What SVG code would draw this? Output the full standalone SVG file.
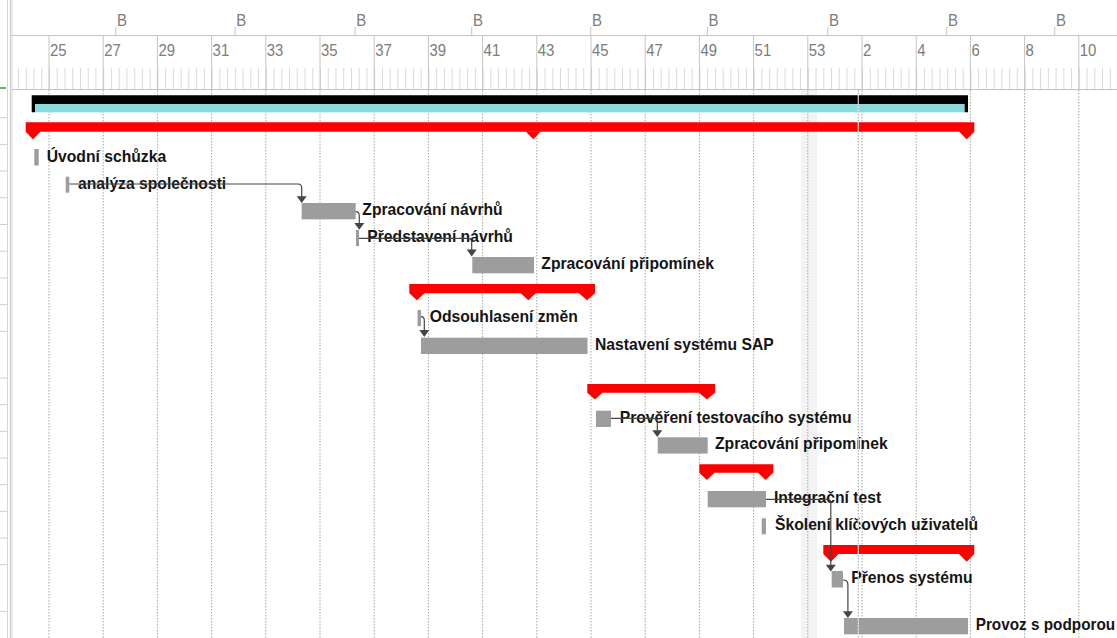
<svg xmlns="http://www.w3.org/2000/svg" width="1117" height="638" viewBox="0 0 1117 638">
  <style>
    .hdr { font-family: "Liberation Sans", Arial, sans-serif; font-size: 17px; fill: #7c7c7c; }
    .lbl { font-family: "Liberation Sans", Arial, sans-serif; font-size: 15.7px; font-weight: bold; fill: #151515; }
    .rule { stroke: #c4c4c4; stroke-width: 1; fill: none; }
    .grid { stroke: #a6a6a6; stroke-width: 1; stroke-dasharray: 1.5 1.5; fill: none; }
    .task { fill: #9d9d9d; }
    .summary { fill: #ff0000; }
    .link { stroke: #454545; stroke-width: 1.2; fill: none; }
    .head { fill: #454545; }
  </style>
  <defs>
    <!-- minor timescale ticks, one every two days -->
    <pattern id="minorTicks" patternUnits="userSpaceOnUse" x="18.03" y="68" width="7.743" height="21">
      <rect x="0" y="0" width="1" height="21" fill="#dadada"/>
    </pattern>
  </defs>

  <rect x="0" y="0" width="1117" height="638" fill="#ffffff"/>

  <!-- sheet edge on the left -->
  <g id="sheet-edge">
    <line x1="7.5" y1="0" x2="7.5" y2="638" stroke="#d6d6d6"/>
    <line x1="10.5" y1="0" x2="10.5" y2="638" stroke="#c8c8c8"/>
    <line x1="12" y1="0" x2="12" y2="638" stroke="#d8d8d8"/>
    <line x1="0" y1="88" x2="6" y2="88" stroke="#3f8f3f" stroke-width="1.5"/>
    <path stroke="#cfcfcf" fill="none" d="M0,117.7H7 M0,144.4H7 M0,171H7 M0,197.8H7 M0,224.5H7 M0,251.2H7 M0,278H7 M0,304.6H7 M0,331.3H7 M0,378H7 M0,404.7H7 M0,431.3H7 M0,458H7 M0,484.7H7 M0,511.3H7 M0,538H7 M0,564.7H7 M0,611.4H7"/>
  </g>

  <!-- timescale -->
  <g id="timescale">
    <line class="rule" x1="12" y1="35.5" x2="1117" y2="35.5"/>
    <line class="rule" x1="12" y1="89.5" x2="1117" y2="89.5"/>
    <rect x="12.5" y="68" width="1104.5" height="21" fill="url(#minorTicks)"/>
    <!-- month ticks -->
    <path class="rule" d="M115.7,27V35 M235,27V35 M355,27V35 M471.7,27V35 M590.7,27V35 M707.3,27V35 M827.7,27V35 M946.7,27V35 M1054.7,27V35"/>
    <g class="hdr">
      <text x="117" y="26" textLength="10" lengthAdjust="spacingAndGlyphs">B</text>
      <text x="236.3" y="26" textLength="10" lengthAdjust="spacingAndGlyphs">B</text>
      <text x="356.3" y="26" textLength="10" lengthAdjust="spacingAndGlyphs">B</text>
      <text x="473" y="26" textLength="10" lengthAdjust="spacingAndGlyphs">B</text>
      <text x="592" y="26" textLength="10" lengthAdjust="spacingAndGlyphs">B</text>
      <text x="708.6" y="26" textLength="10" lengthAdjust="spacingAndGlyphs">B</text>
      <text x="829" y="26" textLength="10" lengthAdjust="spacingAndGlyphs">B</text>
      <text x="948" y="26" textLength="10" lengthAdjust="spacingAndGlyphs">B</text>
      <text x="1056" y="26" textLength="10" lengthAdjust="spacingAndGlyphs">B</text>
    </g>
    <!-- week ticks -->
    <path class="rule" d="M49,36V89 M103.2,36V89 M157.4,36V89 M211.6,36V89 M265.8,36V89 M320,36V89 M374.2,36V89 M428.4,36V89 M482.6,36V89 M536.8,36V89 M591,36V89 M645.2,36V89 M699.4,36V89 M753.6,36V89 M807.8,36V89 M862,36V89 M916.2,36V89 M970.4,36V89 M1024.6,36V89 M1078.8,36V89"/>
    <g class="hdr">
      <text x="50" y="56" textLength="16.6" lengthAdjust="spacingAndGlyphs">25</text>
      <text x="104.2" y="56" textLength="16.6" lengthAdjust="spacingAndGlyphs">27</text>
      <text x="158.4" y="56" textLength="16.6" lengthAdjust="spacingAndGlyphs">29</text>
      <text x="212.6" y="56" textLength="16.6" lengthAdjust="spacingAndGlyphs">31</text>
      <text x="266.8" y="56" textLength="16.6" lengthAdjust="spacingAndGlyphs">33</text>
      <text x="321" y="56" textLength="16.6" lengthAdjust="spacingAndGlyphs">35</text>
      <text x="375.2" y="56" textLength="16.6" lengthAdjust="spacingAndGlyphs">37</text>
      <text x="429.4" y="56" textLength="16.6" lengthAdjust="spacingAndGlyphs">39</text>
      <text x="483.6" y="56" textLength="16.6" lengthAdjust="spacingAndGlyphs">41</text>
      <text x="537.8" y="56" textLength="16.6" lengthAdjust="spacingAndGlyphs">43</text>
      <text x="592" y="56" textLength="16.6" lengthAdjust="spacingAndGlyphs">45</text>
      <text x="646.2" y="56" textLength="16.6" lengthAdjust="spacingAndGlyphs">47</text>
      <text x="700.4" y="56" textLength="16.6" lengthAdjust="spacingAndGlyphs">49</text>
      <text x="754.6" y="56" textLength="16.6" lengthAdjust="spacingAndGlyphs">51</text>
      <text x="808.8" y="56" textLength="16.6" lengthAdjust="spacingAndGlyphs">53</text>
      <text x="863" y="56" textLength="8.3" lengthAdjust="spacingAndGlyphs">2</text>
      <text x="917.2" y="56" textLength="8.3" lengthAdjust="spacingAndGlyphs">4</text>
      <text x="971.4" y="56" textLength="8.3" lengthAdjust="spacingAndGlyphs">6</text>
      <text x="1025.6" y="56" textLength="8.3" lengthAdjust="spacingAndGlyphs">8</text>
      <text x="1079.8" y="56" textLength="16.6" lengthAdjust="spacingAndGlyphs">10</text>
    </g>
  </g>

  <!-- non-working period -->
  <rect x="801" y="90" width="16" height="548" fill="#f3f3f3"/>

  <!-- fortnight gridlines -->
  <path class="grid" d="M49,90V638 M103.2,90V638 M157.4,90V638 M211.6,90V638 M265.8,90V638 M320,90V638 M374.2,90V638 M428.4,90V638 M482.6,90V638 M536.8,90V638 M591,90V638 M645.2,90V638 M699.4,90V638 M753.6,90V638 M807.8,90V638 M862,90V638 M916.2,90V638 M970.4,90V638 M1024.6,90V638 M1078.8,90V638"/>

  <!-- project summary -->
  <g id="project">
    <rect x="35" y="104" width="930" height="8.3" fill="#8ad9dc"/>
    <path fill="#000000" d="M31.7,95.3H968V112.3H964.7V104H35V112.3H31.7Z"/>
  </g>

  <!-- summary tasks -->
  <g id="summary-1">
    <path class="summary" d="M25.7,122.3H974.3V131.7L966.7,139.3L959.3,131.7H40.5L33,139.3L25.7,131.7Z"/>
    <polygon class="summary" points="525.8,131.5 540.8,131.5 533.3,139.3"/>
  </g>
  <g id="summary-2">
    <path class="summary" d="M409.3,284H595V293.3L587,300.3L579,293.3H424.5L416.9,300.3L409.3,293.3Z"/>
    <polygon class="summary" points="520.5,293 536,293 528.3,300.3"/>
  </g>
  <g id="summary-3">
    <path class="summary" d="M587.3,384H715V392.7L707,399.6L699,392.7H602.5L595,399.6L587.3,392.7Z"/>
  </g>
  <g id="summary-4">
    <path class="summary" d="M699.3,464.3H773.3V472.7L765.5,480L758,472.7H714.5L706.9,480L699.3,472.7Z"/>
  </g>
  <g id="summary-5">
    <path class="summary" d="M823.3,545H974.3V554L966.7,561.7L959,554H838.5L830.9,561.7L823.3,554Z"/>
  </g>

  <!-- tasks -->
  <g id="uvodni-schuzka">
    <rect class="task" x="34.3" y="149" width="4.4" height="16.5"/>
    <text class="lbl" x="46.7" y="161.5">Úvodní schůzka</text>
  </g>
  <g id="analyza-spolecnosti">
    <rect class="task" x="65.7" y="176.7" width="3.6" height="16"/>
    <text class="lbl" x="78" y="188.5">analýza společnosti</text>
  </g>
  <g id="zpracovani-navrhu">
    <rect class="task" x="301.7" y="203" width="54" height="16.3"/>
    <text class="lbl" x="362.3" y="215.2">Zpracování návrhů</text>
  </g>
  <g id="predstaveni-navrhu">
    <rect class="task" x="356" y="230" width="3" height="16"/>
    <text class="lbl" x="367.3" y="242">Představení návrhů</text>
  </g>
  <g id="zpracovani-pripominek-1">
    <rect class="task" x="472.3" y="257" width="61.7" height="16.3"/>
    <text class="lbl" x="541.3" y="269.2">Zpracování připomínek</text>
  </g>
  <g id="odsouhlaseni-zmen">
    <rect class="task" x="417.5" y="310" width="3.5" height="16"/>
    <text class="lbl" x="429.7" y="322">Odsouhlasení změn</text>
  </g>
  <g id="nastaveni-sap">
    <rect class="task" x="421" y="337.7" width="166.5" height="16.3"/>
    <text class="lbl" x="595" y="349.6">Nastavení systému SAP</text>
  </g>
  <g id="provereni-testovaciho-systemu">
    <rect class="task" x="596" y="410.7" width="15" height="16.3"/>
    <text class="lbl" x="619.7" y="422.8">Prověření testovacího systému</text>
  </g>
  <g id="zpracovani-pripominek-2">
    <rect class="task" x="657.7" y="437.3" width="50" height="16.3"/>
    <text class="lbl" x="715" y="449.4">Zpracování připomínek</text>
  </g>
  <g id="integracni-test">
    <rect class="task" x="707.7" y="491" width="58.3" height="16.3"/>
    <text class="lbl" x="774" y="503">Integrační test</text>
  </g>
  <g id="skoleni-klicovych-uzivatelu">
    <rect class="task" x="761.7" y="518.3" width="4.3" height="16"/>
    <text class="lbl" x="775" y="530.2">Školení klíčových uživatelů</text>
  </g>
  <g id="prenos-systemu">
    <rect class="task" x="831.7" y="571" width="11.3" height="16.5"/>
    <text class="lbl" x="851.3" y="583.2">Přenos systému</text>
  </g>
  <g id="provoz-s-podporou">
    <rect class="task" x="844" y="618" width="124" height="16.3"/>
    <text class="lbl" x="975.7" y="630.3" textLength="139.5" lengthAdjust="spacingAndGlyphs">Provoz s podporou</text>
  </g>

  <!-- dependency links -->
  <g id="links">
    <path class="link" d="M69.3,184H298Q301.7,184 301.7,188V197"/>
    <polygon class="head" points="296.7,196.3 306.7,196.3 301.7,203"/>
    <path class="link" d="M355.7,211.7Q359.3,211.7 359.3,216V223.5"/>
    <polygon class="head" points="354.3,223 364.3,223 359.3,229.8"/>
    <path class="link" d="M359,238.3H468Q471.7,238.3 471.7,242V250"/>
    <polygon class="head" points="466.7,249.5 476.7,249.5 471.7,256.5"/>
    <path class="link" d="M421,316.7Q424.3,316.7 424.3,320.5V330.5"/>
    <polygon class="head" points="419.3,330 429.3,330 424.3,337"/>
    <path class="link" d="M611,418.3H653.6Q657.3,418.3 657.3,422V430.5"/>
    <polygon class="head" points="652.3,430.2 662.3,430.2 657.3,437"/>
    <path class="link" d="M766,499.3H827Q830.8,499.3 830.8,503V565"/>
    <polygon class="head" points="825.8,564.8 835.8,564.8 830.8,571.5"/>
    <path class="link" d="M843,580Q847.9,580 847.9,584.5V611.5"/>
    <polygon class="head" points="842.9,611.2 852.9,611.2 847.9,618"/>
  </g>

  <!-- status date line -->
  <line x1="858.3" y1="90" x2="858.3" y2="638" stroke="#ffffff" stroke-width="1"/>
  <line class="grid" x1="858.3" y1="90" x2="858.3" y2="638"/>
</svg>
